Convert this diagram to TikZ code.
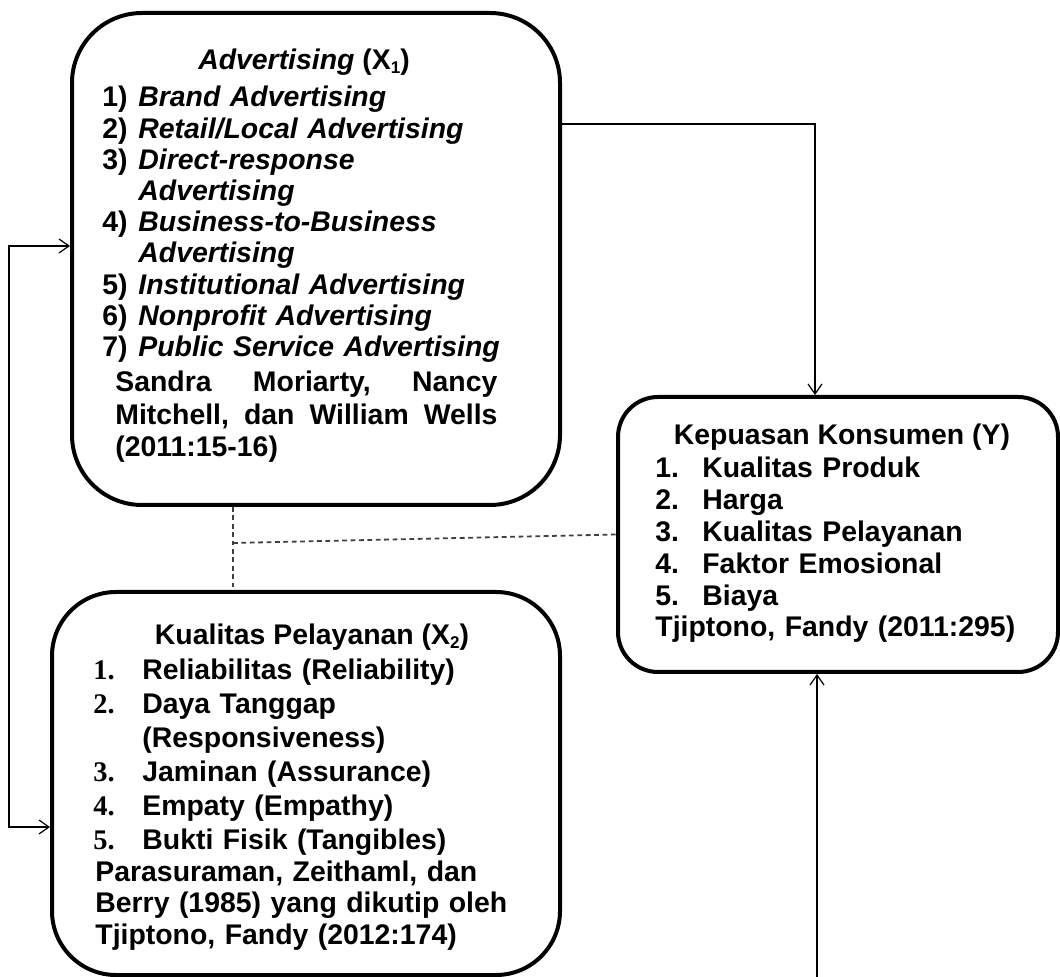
\documentclass[tikz,border=0pt]{standalone}
\usepackage{fontspec}
\setmainfont{Liberation Sans}
\newfontfamily\numserif{Liberation Serif}
\usetikzlibrary{arrows.meta}
\setlength{\parindent}{0pt}

\newcommand{\varsub}[1]{\raisebox{-1.8pt}{\fontsize{8.5}{8.5}\selectfont #1}}
\newcommand{\advitem}[2]{\makebox[18pt][l]{#1}\textit{#2}\par}
\newcommand{\advmore}[1]{\hspace*{18pt}\textit{#1}\par}
\newcommand{\kepitem}[2]{\makebox[23.5pt][l]{#1}#2\par}
\newcommand{\kualitem}[2]{\makebox[24.5pt][l]{\numserif #1}#2\par}
\newcommand{\kualmore}[1]{\hspace*{24.5pt}#1\par}

\begin{document}
\begin{tikzpicture}
  [x=0.5pt,y=-0.5pt,
   varbox/.style={draw,line width=2pt,inner sep=0pt},
   vartitle/.style={anchor=base,inner sep=0pt,font=\bfseries\fontsize{14.2}{15.6}\selectfont},
   vartext/.style={anchor=north west,inner sep=0pt,align=left,text width=260pt,
     font=\bfseries\fontsize{14.2}{15.6}\selectfont},
   flow/.style={->,>={Straight Barb[length=5pt,width=7pt]},line width=0.6pt},
   link/.style={dash pattern=on 2.4pt off 1.8pt,line width=0.9pt,black!75}]

  \useasboundingbox (0,0) rectangle (1060,977);

  % the three variables
  \node[varbox,rounded corners=35pt,minimum width=244pt,minimum height=246pt]
    (advertising) at (316,259) {};
  \node[varbox,rounded corners=20pt,minimum width=220pt,minimum height=137.5pt]
    (kepuasan) at (838,534.5) {};
  \node[varbox,rounded corners=32pt,minimum width=254pt,minimum height=191.5pt]
    (kualitas) at (306,783.5) {};

  % titles
  \node[vartitle] (advertising title) at (304,70) {\textit{Advertising} (X\varsub{1})};
  \node[vartitle] (kepuasan title) at (842,445) {Kepuasan Konsumen (Y)};
  \node[vartitle] (kualitas title) at (312,645) {Kualitas Pelayanan (X\varsub{2})};

  % indicators and sources
  \node[vartext] (advertising list) at (102,86) {%
    \advitem{1)}{Brand Advertising}
    \advitem{2)}{Retail/Local Advertising}
    \advitem{3)}{Direct-response}
    \advmore{Advertising}
    \advitem{4)}{Business-to-Business}
    \advmore{Advertising}
    \advitem{5)}{Institutional Advertising}
    \advitem{6)}{Nonprofit Advertising}
    \advitem{7)}{Public Service Advertising}
    {\baselineskip=16.2pt\leftskip=6.5pt
    \vspace{1.5pt}
    \makebox[191pt][l]{Sandra\hfill Moriarty,\hfill Nancy}\par
    \makebox[191pt][l]{Mitchell,\hfill dan\hfill William\hfill Wells}\par
    (2011:15-16)\par}};

  \node[vartext] (kepuasan list) at (655,457) {%
    {\baselineskip=15.9pt
    \kepitem{1.}{Kualitas Produk}
    \kepitem{2.}{Harga}
    \kepitem{3.}{Kualitas Pelayanan}
    \kepitem{4.}{Faktor Emosional}
    \kepitem{5.}{Biaya}
    Tjiptono, Fandy (2011:295)\par}};

  \node[vartext] (kualitas list) at (93,659) {%
    {\baselineskip=17pt
    \kualitem{1.}{Reliabilitas (Reliability)}
    \kualitem{2.}{Daya Tanggap}
    \kualmore{(Responsiveness)}
    \kualitem{3.}{Jaminan (Assurance)}
    \kualitem{4.}{Empaty (Empathy)}
    \kualitem{5.}{Bukti Fisik (Tangibles)}\par}
    {\baselineskip=15.75pt\leftskip=1pt
    Parasuraman, Zeithaml, dan\par
    Berry (1985) yang dikutip oleh\par
    Tjiptono, Fandy (2012:174)\par}};

  % connectors
  \coordinate (top bend) at (815,124);
  \coordinate (foot) at (817,977);
  \coordinate (rail top) at (9,246);
  \coordinate (rail bottom) at (9,827);
  \coordinate (dash joint) at (233,543);

  \draw[flow] (advertising.east |- top bend) -- (top bend) -- (kepuasan.north -| top bend);
  \draw[flow] (foot) -- (kepuasan.south -| foot);
  \draw[flow,<->] (advertising.west |- rail top) -- (rail top)
    -- (rail bottom) -- (kualitas.west |- rail bottom);
  \draw[link] (advertising.south -| dash joint) -- (kualitas.north -| dash joint);
  \draw[link] (dash joint) -- (kepuasan.west);
\end{tikzpicture}
\end{document}
